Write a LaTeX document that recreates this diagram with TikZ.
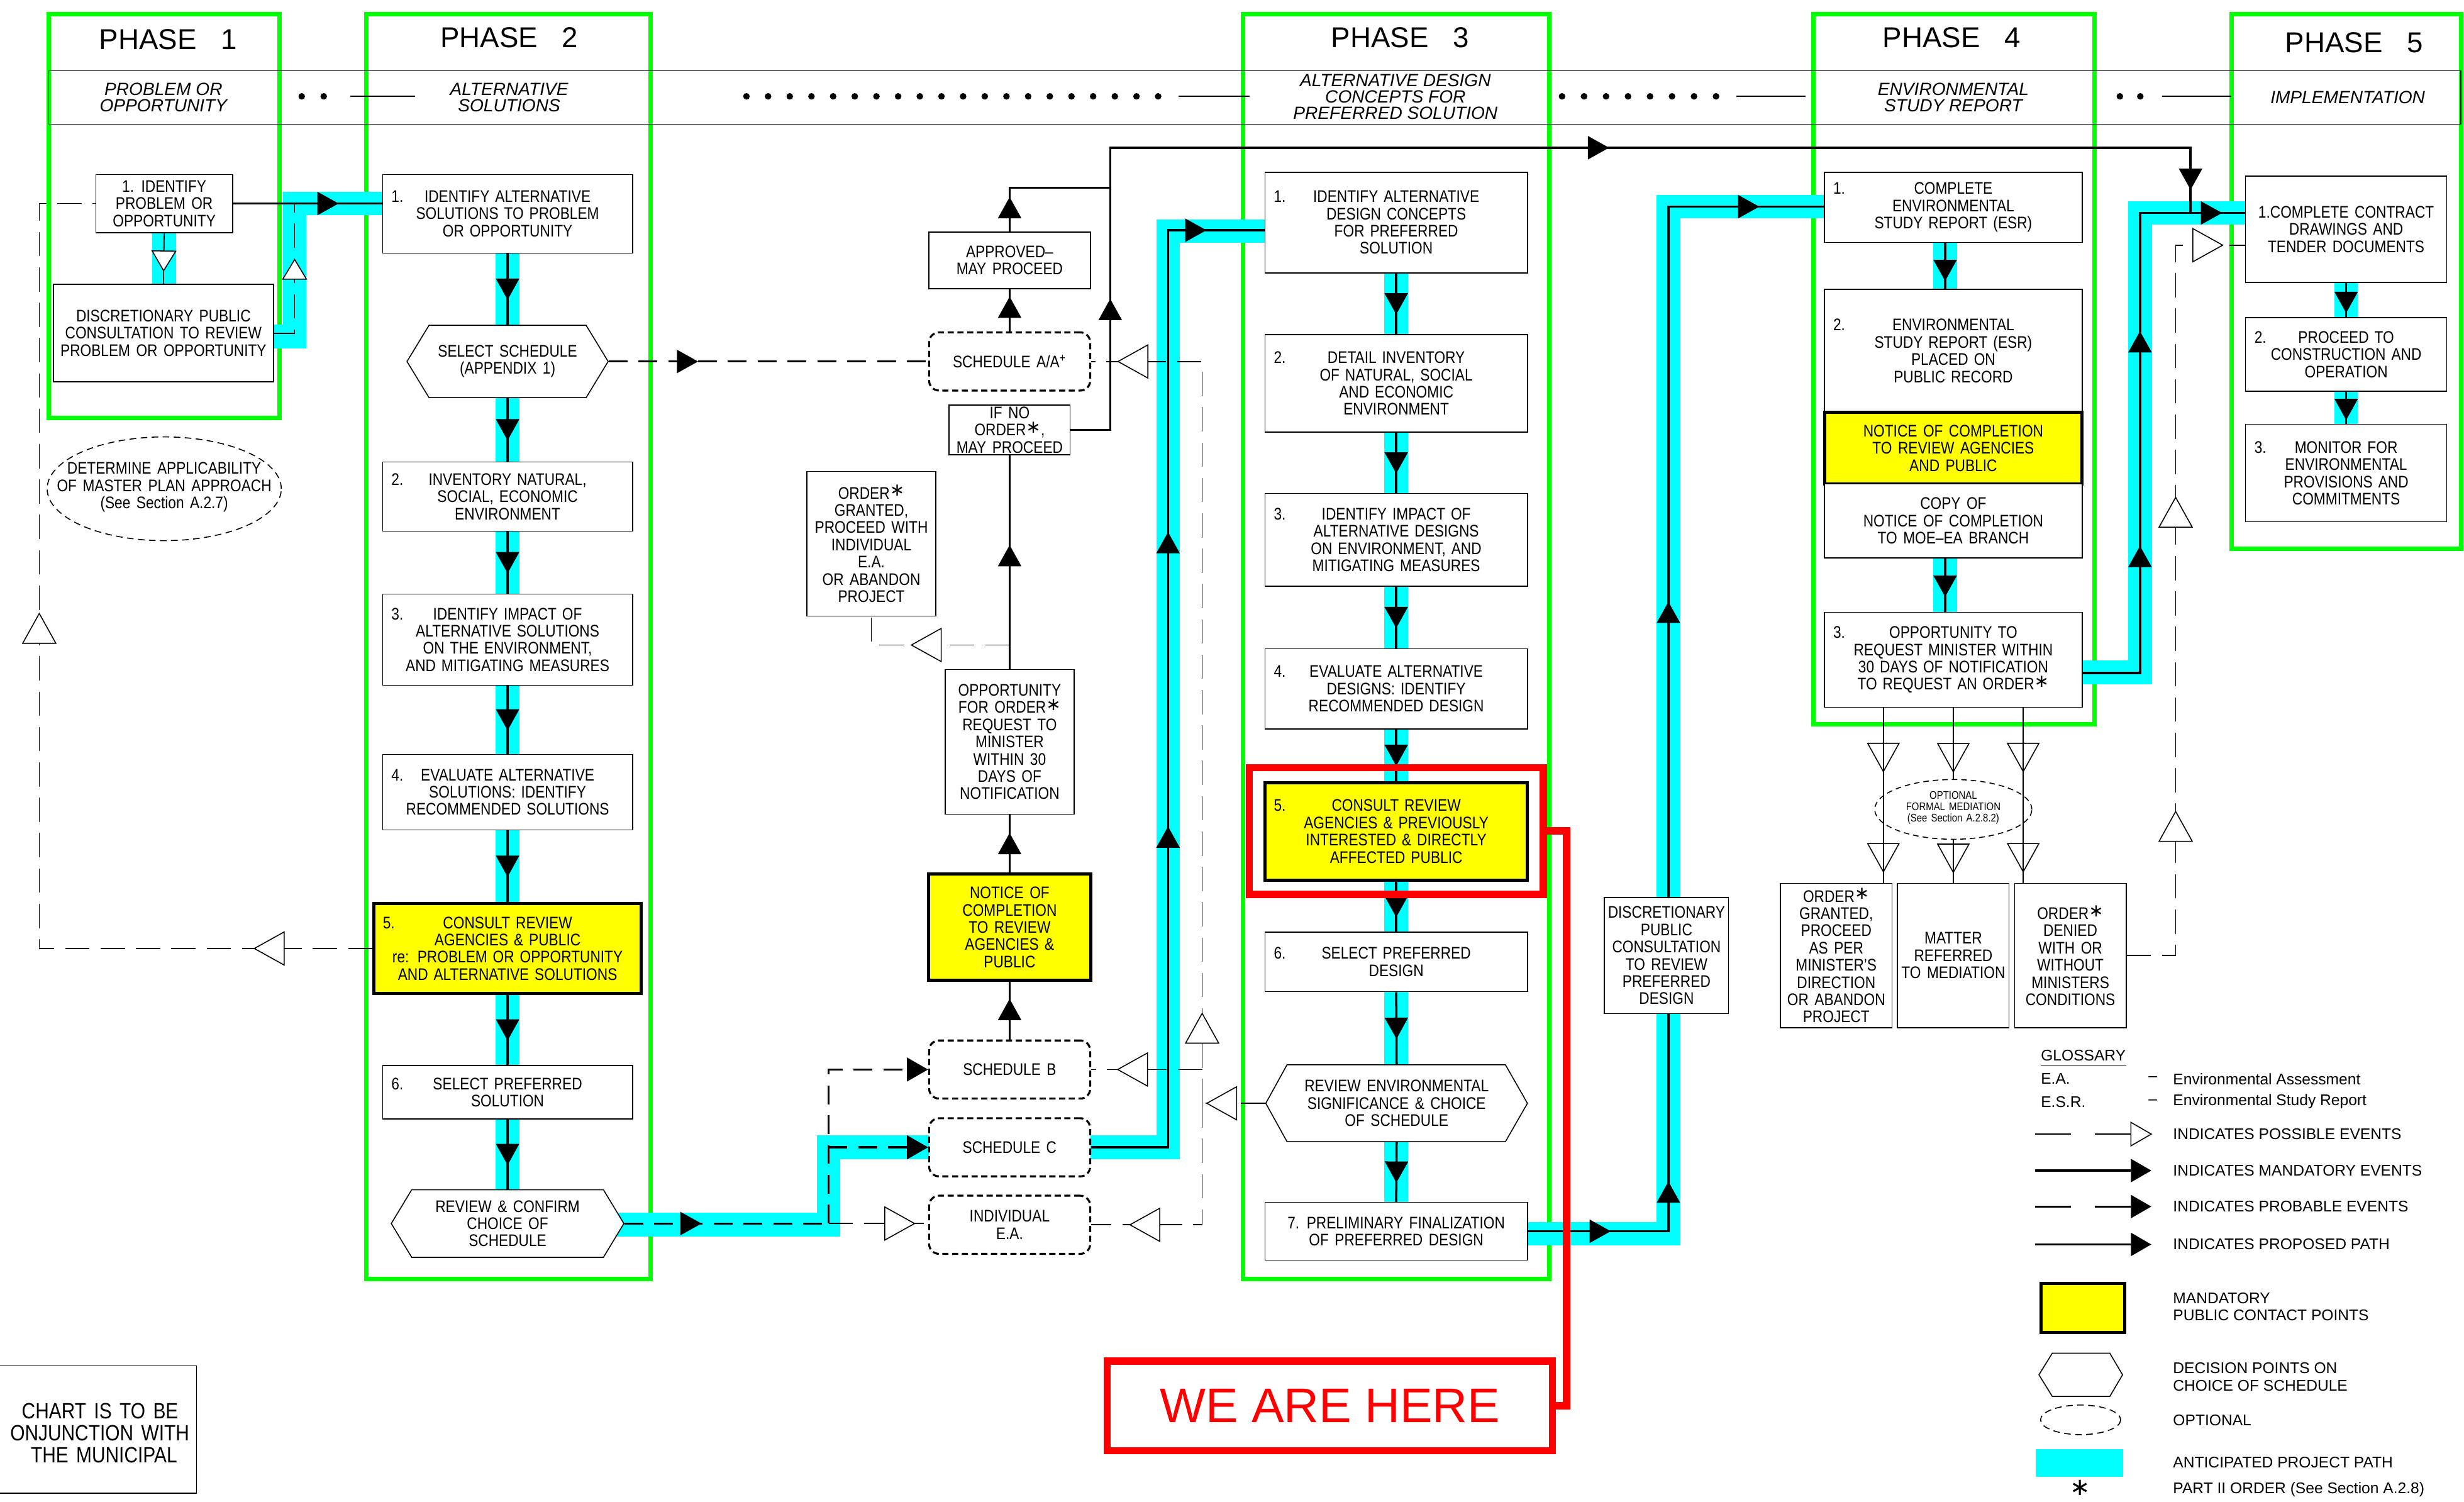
\documentclass[tikz,border=0pt]{standalone}
\usepackage{fontspec}
\setmainfont{Liberation Sans}[FakeStretch=0.85,WordSpace=1.5]
\newfontfamily\ttl{Liberation Sans}
\newfontfamily\djv{DejaVu Sans}
\usetikzlibrary{calc,shapes.geometric,arrows.meta,decorations.markings}
\definecolor{pgreen}{RGB}{0,255,0}
\definecolor{pcyan}{RGB}{0,255,255}
\definecolor{pyellow}{RGB}{255,255,0}
\definecolor{pred}{RGB}{255,0,0}
\newcommand{\boxfont}{\fontsize{7.6}{7.8}\selectfont}
\newcommand{\ordst}{\raisebox{0.3ex}{\djv\fontsize{8}{8}\selectfont ∗}}
\newcommand{\numlead}[1]{\rlap{#1}\hfill}
\newcommand{\numtail}{\hfill\null}
\newcommand{\filltri}{\fill[black] (-4.8pt,-5.33pt) -- (4.8pt,0pt) -- (-4.8pt,5.33pt) -- cycle;}
\newcommand{\opentri}{\filldraw[fill=white,draw=black,solid,line width=0.45pt] (-6.75pt,-7.5pt) -- (6.75pt,0pt) -- (-6.75pt,7.5pt) -- cycle;}
\newcommand{\opensmtri}{\filldraw[fill=white,draw=black,solid,line width=0.45pt] (-4.45pt,-5.35pt) -- (4.45pt,0pt) -- (-4.45pt,5.35pt) -- cycle;}
\newcommand{\hollowtri}{\draw[black,solid,line width=0.45pt] (-6.4pt,-7.1pt) -- (6.4pt,0pt) -- (-6.4pt,7.1pt) -- cycle;}
\tikzset{
  bx/.style 2 args={draw=black, line width=0.45pt, fill=white, minimum width=#1*0.025cm, minimum height=#2*0.025cm, inner xsep=1pt, inner ysep=0pt, align=center, font=\boxfont},
  nbx/.style 2 args={bx={#1}{#2}, text width=#1*0.025cm-8pt},
  ybx/.style 2 args={bx={#1}{#2}, fill=pyellow, line width=1.4pt},
  ynbx/.style 2 args={nbx={#1}{#2}, fill=pyellow, line width=1.4pt},
  sch/.style={draw=black, line width=0.9pt, dash pattern=on 2.8pt off 1.6pt, rounded corners=4.5pt, fill=white, minimum width=102.5*0.025cm, minimum height=37*0.025cm, inner sep=0pt, align=center, font=\boxfont},
  hx/.style 2 args={minimum width=#1*0.025cm, minimum height=#2*0.025cm, inner sep=0pt, align=center, font=\boxfont},
  hexline/.style={draw=black, line width=0.45pt, fill=white},
  txt/.style={inner sep=0pt, align=center, font=\boxfont},
  phasebox/.style={draw=pgreen, line width=2pt},
  cy/.style={draw=pcyan, line width=10.7pt, line join=miter},
  mand/.style={draw=black, line width=1pt},
  prob/.style={draw=black, line width=1pt, dash pattern=on 8.5pt off 5pt},
  poss/.style={draw=black, line width=0.45pt, dash pattern=on 11pt off 5pt},
  fa/.style={postaction={decorate,decoration={markings,mark=at position #1 with {\filltri}}}},
  oa/.style={postaction={decorate,decoration={markings,mark=at position #1 with {\opentri}}}},
  osa/.style={postaction={decorate,decoration={markings,mark=at position #1 with {\opensmtri}}}},
  ha/.style={postaction={decorate,decoration={markings,mark=at position #1 with {\hollowtri}}}},
  endarr/.style={-{Triangle[length=9.6pt,width=10.7pt]}},
  ttlf/.style={font=\ttl\fontsize{13}{15}\selectfont, inner sep=0pt},
  subf/.style={font=\ttl\itshape\fontsize{8}{7.4}\selectfont, inner sep=0pt, align=center},
  lgd/.style={font=\ttl\fontsize{7}{7.8}\selectfont, inner sep=0pt, anchor=west, align=left},
  dashell/.style={ellipse, draw=black, line width=0.45pt, dash pattern=on 3pt off 2pt, inner sep=0pt},
}
\begin{document}
\begin{tikzpicture}[x=0.025cm,y=-0.025cm]
\useasboundingbox (0,0) rectangle (1568,955.3);
% phase frames
\draw[phasebox] (31,9) rectangle (178,266);
\draw[phasebox] (233,9) rectangle (414,814);
\draw[phasebox] (791,9) rectangle (986,814);
\draw[phasebox] (1154,9) rectangle (1333,461);
\draw[phasebox] (1420,9) rectangle (1566,349);
% header band
\draw[line width=0.5pt] (31,45) rectangle (1566,79);
\node[ttlf] (t1) at (107,25) {PHASE\hspace{11pt}1};
\node[ttlf] (t2) at (324,24) {PHASE\hspace{11pt}2};
\node[ttlf] (t3) at (891,24) {PHASE\hspace{11pt}3};
\node[ttlf] (t4) at (1242,24) {PHASE\hspace{11pt}4};
\node[ttlf] (t5) at (1498,27) {PHASE\hspace{11pt}5};
\node[subf] (s1) at (104,62) {PROBLEM OR\\OPPORTUNITY};
\node[subf] (s2) at (324,62) {ALTERNATIVE\\SOLUTIONS};
\node[subf] (s3) at (888,61.5) {ALTERNATIVE DESIGN\\CONCEPTS FOR\\PREFERRED SOLUTION};
\node[subf] (s4) at (1243,62) {ENVIRONMENTAL\\STUDY REPORT};
\node[subf] (s5) at (1494,62) {IMPLEMENTATION};
\foreach \x in {192,206} \fill (\x,61.3) circle (2.1);
\foreach \i in {0,...,19} \fill ({475+13.79*\i},61.3) circle (2.1);
\foreach \i in {0,...,7} \fill ({994+14*\i},61.3) circle (2.1);
\foreach \x in {1349,1362} \fill (\x,61.3) circle (2.1);
\draw[line width=0.5pt] (223,61.3) -- (264,61.3);
\draw[line width=0.5pt] (750,61.3) -- (795,61.3);
\draw[line width=0.5pt] (1105,61.3) -- (1149,61.3);
\draw[line width=0.5pt] (1376,61.3) -- (1420,61.3);
% anticipated project path (cyan)
\draw[cy] (104.5,148) -- (104.5,181);
\draw[cy] (170,214) -- (187.5,214) -- (187.5,129.5) -- (243,129.5);
\draw[cy] (323,161) -- (323,757);
\draw[cy] (390,779.3) -- (527.3,779.3) -- (527.3,730) -- (595,730);
\draw[cy] (690,730) -- (743.3,730) -- (743.3,147) -- (805,147);
\draw[cy] (888.5,173.6) -- (888.5,765);
\draw[cy] (972,785) -- (1061.7,785) -- (1061.7,131.5) -- (1161,131.5);
\draw[cy] (1237.8,154.3) -- (1237.8,389.6);
\draw[cy] (1325,427.8) -- (1361.8,427.8) -- (1361.8,135.5) -- (1429,135.5);
\draw[cy] (1493,179.7) -- (1493,270);
% ---------- Phase 1
\node[bx={87}{37}] (p1b1) at (104.5,129.5) {1. IDENTIFY\\PROBLEM OR\\OPPORTUNITY};
\node[bx={140}{62}] (p1b2) at (104,212) {DISCRETIONARY PUBLIC\\CONSULTATION TO REVIEW\\PROBLEM OR OPPORTUNITY};
\node[dashell, minimum width=149*0.025cm, minimum height=66*0.025cm] (p1ell) at (104.5,311) {};
\node[txt] (p1ellt) at (104.5,310) {DETERMINE APPLICABILITY\\OF MASTER PLAN APPROACH\\(See Section A.2.7)};
% ---------- Phase 2
\node[nbx={159}{50}] (p2b1) at (323,136) {\numlead{1.}IDENTIFY ALTERNATIVE\numtail\\SOLUTIONS TO PROBLEM\\OR OPPORTUNITY};
\draw[hexline] (259,230) -- (273,207) -- (373,207) -- (387,230) -- (373,253) -- (273,253) -- cycle;
\node[hx={128}{46}] (p2h1) at (323,230) {SELECT SCHEDULE\\(APPENDIX 1)};
\node[nbx={159}{44}] (p2b2) at (323,316) {\numlead{2.}INVENTORY NATURAL,\numtail\\SOCIAL, ECONOMIC\\ENVIRONMENT};
\node[nbx={159}{58}] (p2b3) at (323,407) {\numlead{3.}IDENTIFY IMPACT OF\numtail\\ALTERNATIVE SOLUTIONS\\ON THE ENVIRONMENT,\\AND MITIGATING MEASURES};
\node[nbx={159}{48}] (p2b4) at (323,504) {\numlead{4.}EVALUATE ALTERNATIVE\numtail\\SOLUTIONS: IDENTIFY\\RECOMMENDED SOLUTIONS};
\node[ynbx={170}{57}] (p2b5) at (323,603.5) {\numlead{5.}CONSULT REVIEW\numtail\\AGENCIES \& PUBLIC\\re: PROBLEM OR OPPORTUNITY\\AND ALTERNATIVE SOLUTIONS};
\node[nbx={159}{34}] (p2b6) at (323,695) {\numlead{6.}SELECT PREFERRED\numtail\\SOLUTION};
\draw[hexline] (249,778.5) -- (262,757) -- (384,757) -- (397,778.5) -- (384,800) -- (262,800) -- cycle;
\node[hx={148}{43}] (p2h2) at (323,778.5) {REVIEW \& CONFIRM\\CHOICE OF\\SCHEDULE};
% ---------- between phase 2 and 3
\node[bx={103}{36}] (approved) at (642.5,165.6) {APPROVED–\\MAY PROCEED};
\node[sch] (schA) at (642.5,230) {SCHEDULE A/A\textsuperscript{+}};
\node[bx={77}{31.6}] (ifno) at (642.5,273.5) {IF NO\\ORDER\ordst,\\MAY PROCEED};
\node[bx={82}{92}] (ordgr) at (554.5,346) {ORDER\ordst\\GRANTED,\\PROCEED WITH\\INDIVIDUAL\\E.A.\\OR ABANDON\\PROJECT};
\node[bx={82}{92}] (oppord) at (642.5,472) {OPPORTUNITY\\FOR ORDER\ordst\\REQUEST TO\\MINISTER\\WITHIN 30\\DAYS OF\\NOTIFICATION};
\node[ybx={103.5}{67.5}] (notice) at (642.5,590) {NOTICE OF\\COMPLETION\\TO REVIEW\\AGENCIES \&\\PUBLIC};
\node[sch] (schB) at (642.5,680.5) {SCHEDULE B};
\node[sch] (schC) at (642.5,730) {SCHEDULE C};
\node[sch] (indiv) at (642.5,779.3) {INDIVIDUAL\\E.A.};
% ---------- Phase 3
\node[nbx={167}{64}] (p3b1) at (888.5,141.6) {\numlead{1.}IDENTIFY ALTERNATIVE\numtail\\DESIGN CONCEPTS\\FOR PREFERRED\\SOLUTION};
\node[nbx={167}{62}] (p3b2) at (888.5,244) {\numlead{2.}DETAIL INVENTORY\numtail\\OF NATURAL, SOCIAL\\AND ECONOMIC\\ENVIRONMENT};
\node[nbx={167}{59}] (p3b3) at (888.5,343.5) {\numlead{3.}IDENTIFY IMPACT OF\numtail\\ALTERNATIVE DESIGNS\\ON ENVIRONMENT, AND\\MITIGATING MEASURES};
\node[nbx={167}{51}] (p3b4) at (888.5,438.3) {\numlead{4.}EVALUATE ALTERNATIVE\numtail\\DESIGNS: IDENTIFY\\RECOMMENDED DESIGN};
\node[ynbx={167}{62}] (p3b5) at (888.5,529) {\numlead{5.}CONSULT REVIEW\numtail\\AGENCIES \& PREVIOUSLY\\INTERESTED \& DIRECTLY\\AFFECTED PUBLIC};
\node[nbx={167}{38}] (p3b6) at (888.5,612) {\numlead{6.}SELECT PREFERRED\numtail\\DESIGN};
\draw[hexline] (805.5,702) -- (819,677.5) -- (958,677.5) -- (972,702) -- (958,726.4) -- (819,726.4) -- cycle;
\node[hx={166.5}{49}] (p3h) at (888.75,702) {REVIEW ENVIRONMENTAL\\SIGNIFICANCE \& CHOICE\\OF SCHEDULE};
\node[bx={167}{36.7}] (p3b7) at (888.5,783.4) {7. PRELIMINARY FINALIZATION\\OF PREFERRED DESIGN};
% ---------- Phase 4
\node[nbx={164}{44.5}] (p4b1) at (1243,132) {\numlead{1.}COMPLETE\numtail\\ENVIRONMENTAL\\STUDY REPORT (ESR)};
\node[nbx={164}{78.4}] (p4b2a) at (1243,223.2) {\numlead{2.}ENVIRONMENTAL\numtail\\STUDY REPORT (ESR)\\PLACED ON\\PUBLIC RECORD};
\node[ybx={164}{45.5}] (p4b2y) at (1243,285.15) {NOTICE OF COMPLETION\\TO REVIEW AGENCIES\\AND PUBLIC};
\node[bx={164}{47.1}] (p4b2c) at (1243,331.45) {COPY OF\\NOTICE OF COMPLETION\\TO MOE–EA BRANCH};
\node[nbx={164}{60.4}] (p4b3) at (1243,419.8) {\numlead{3.}OPPORTUNITY TO\numtail\\REQUEST MINISTER WITHIN\\30 DAYS OF NOTIFICATION\\TO REQUEST AN ORDER\ordst};
\node[dashell, dash pattern=on 2.5pt off 1.8pt, minimum width=100*0.025cm, minimum height=38*0.025cm] (med) at (1243,515) {};
\node[txt, font=\fontsize{5}{5.1}\selectfont] (medt) at (1243,514) {OPTIONAL\\FORMAL MEDIATION\\(See Section A.2.8.2)};
\node[bx={71}{92}] (og) at (1168.5,608) {ORDER\ordst\\GRANTED,\\PROCEED\\AS PER\\MINISTER’S\\DIRECTION\\OR ABANDON\\PROJECT};
\node[bx={71}{92}] (mr) at (1243,608) {MATTER\\REFERRED\\TO MEDIATION};
\node[bx={71}{92}] (od) at (1317.5,608) {ORDER\ordst\\DENIED\\WITH OR\\WITHOUT\\MINISTERS\\CONDITIONS};
% ---------- Phase 5
\node[bx={128}{67.7}] (p5b1) at (1493,145.85) {1.COMPLETE CONTRACT\\DRAWINGS AND\\TENDER DOCUMENTS};
\node[nbx={128}{47}] (p5b2) at (1493,225.5) {\numlead{2.}PROCEED TO\numtail\\CONSTRUCTION AND\\OPERATION};
\node[nbx={128}{62}] (p5b3) at (1493,301) {\numlead{3.}MONITOR FOR\numtail\\ENVIRONMENTAL\\PROVISIONS AND\\COMMITMENTS};
% ---------- coordinates
\coordinate (j1) at (187.5,129.5);
\coordinate (c1) at (25,603.5);
\coordinate (c2) at (25,129.5);
\coordinate (j2) at (527.3,778.5);
\coordinate (j3) at (706.5,119.5);
\coordinate (c3) at (706.5,94);
\coordinate (c4) at (1394,94);
\coordinate (j5) at (1361.8,135.5);
\coordinate (j5b) at (1394,135.5);
\coordinate (k1) at (743.3,146.5);
\coordinate (j4) at (765,702);
\coordinate (c5) at (765,230);
\coordinate (c6) at (765,779.3);
\coordinate (j6) at (642.5,410.4);
\coordinate (k2) at (1061.7,131.5);
\coordinate (q4) at (1237.8,0);
\coordinate (c7) at (1384.5,608);
\coordinate (c8) at (1384.5,156);
\coordinate (m1) at (1198.5,450);
\coordinate (m3) at (1287.5,450);
% ---------- connectors phase 1
\draw[mand, fa=0.637] (p1b1.east) -- (p1b1.east -| p2b1.west);
\draw[poss, osa=0.545] (p1b1.south) -- (p1b2.north);
\draw[poss, osa=0.5625] (p1b2.east) -| (j1);
\draw[poss, oa=0.091, oa=0.576] (p2b5.west) -- (c1) -- (c2) -- (p1b1.west);
% phase 2 chain
\draw[mand, fa=0.5] (p2b1.south) -- (p2h1.north);
\draw[mand, fa=0.5] (p2h1.south) -- (p2b2.north);
\draw[mand, fa=0.5] (p2b2.south) -- (p2b3.north);
\draw[mand, fa=0.5] (p2b3.south) -- (p2b4.north);
\draw[mand, fa=0.5] (p2b4.south) -- (p2b5.north);
\draw[mand, fa=0.5] (p2b5.south) -- (p2b6.north);
\draw[mand, fa=0.5] (p2b6.south) -- (p2h2.north);
% phase 2 -> schedules
\draw[prob, fa=0.247] (p2h1.east) -- (schA.west);
\draw[prob, fa=0.326] (p2h2.east) -- (j2);
\draw[prob, endarr] (j2) |- (schB.west);
\draw[prob, endarr] (j2 |- schC.west) -- (schC.west);
\draw[poss, oa=0.714] (j2) -- (j2 -| indiv.west);
\draw[mand, fa=0.52] (schB.north) -- (notice.south);
\draw[mand, fa=0.5] (notice.north) -- (oppord.south);
\draw[mand, fa=0.53] (oppord.north) -- (ifno.south);
\draw[mand, fa=0.109, fa=0.552, fa=0.977] (ifno.east) -| (c3) -- (c4) -- (j5b);
\draw[mand, fa=0.57] (schA.north) -- (approved.south);
\draw[mand, fa=0.165] (approved.north) |- (j3);
\draw[poss, oa=0.5] (j6) -| (ordgr.south);
\draw[mand, fa=0.355, fa=0.625, fa=0.937] (schC.east) -| (k1) -- (k1 -| p3b1.west);
% possible-event feedback from phase 3
\draw[poss, oa=0.69] (p3h.west) -- (j4);
\draw[poss, oa=0.088, oa=0.951] (j4) -- (c5) -- (schA.east);
\draw[poss, oa=0.627] (j4 |- schB.east) -- (schB.east);
\draw[poss, oa=0.769] (j4) -- (c6) -- (indiv.east);
% phase 3 chain
\draw[mand, fa=0.5] (p3b1.south) -- (p3b2.north);
\draw[mand, fa=0.5] (p3b2.south) -- (p3b3.north);
\draw[mand, fa=0.5] (p3b3.south) -- (p3b4.north);
\draw[mand, fa=0.5] (p3b4.south) -- (p3b5.north);
\draw[mand, fa=0.5] (p3b5.south) -- (p3b6.north);
\draw[mand, fa=0.5] (p3b6.south) -- (p3h.north);
\draw[mand, fa=0.5] (p3h.south) -- (p3b7.north);
\draw[mand, fa=0.0547, fa=0.136, fa=0.575, fa=0.943] (p3b7.east) -| (k2) -- (k2 -| p4b1.west);
% ---------- between phase 3 and 4 (box sits over the path)
\node[bx={79}{74}] (disc2) at (1060.5,608) {DISCRETIONARY\\PUBLIC\\CONSULTATION\\TO REVIEW\\PREFERRED\\DESIGN};
% phase 4
\draw[mand, fa=0.6] (p4b1.south -| q4) -- (p4b2a.north -| q4);
\draw[mand, fa=0.52] (p4b2c.south -| q4) -- (p4b3.north -| q4);
\draw[mand, fa=0.279, fa=0.624, fa=0.946] ($(p4b3.south east)+(0,-22.2)$) -| (j5) -- (j5 -| p5b1.west);
\draw[line width=0.45pt, ha=0.286, ha=0.857] (m1) -- (m1 |- og.north);
\draw[line width=0.45pt, ha=0.7] (p4b3.south) -- (med.north);
\draw[line width=0.45pt, ha=0.43] (med.south) -- (mr.north);
\draw[line width=0.45pt, ha=0.286, ha=0.857] (m3) -- (m3 |- od.north);
\draw[poss, oa=0.215, oa=0.594, oa=0.955] (od.east) -- (c7) -- (c8) -- (c8 -| p5b1.west);
% phase 5
\draw[mand, fa=0.57] (p5b1.south) -- (p5b2.north);
\draw[mand, fa=0.55] (p5b2.south) -- (p5b3.north);
% ---------- we are here
\node[draw=pred, line width=3.3pt, minimum width=187*0.025cm, minimum height=80.5*0.025cm, inner sep=0pt] (redbox) at (888.5,528.75) {};
\node[draw=pred, line width=3.2pt, minimum width=283.4*0.025cm, minimum height=57*0.025cm, inner sep=0pt, font=\ttl\fontsize{22}{24}\selectfont, text=pred] (wah) at (846.3,894.5) {WE ARE HERE};
\draw[pred, line width=3.3pt] (redbox.east) -- (997,528.75) -- (997,894.5) -- (wah.east);
% ---------- bottom-left note
\draw[line width=0.45pt] (-5,869) -- (125,869) -- (125,950) -- (-5,950);
\node[txt, anchor=east, font=\fontsize{10}{10}\selectfont] (bl1) at (113.7,897.7) {CHART IS TO BE};
\node[txt, anchor=east, font=\fontsize{10}{10}\selectfont] (bl2) at (120.7,912) {ONJUNCTION WITH};
\node[txt, anchor=east, font=\fontsize{10}{10}\selectfont] (bl3) at (113,926) {THE MUNICIPAL};
% ---------- legend
\node[lgd] (lgt) at (1298.5,671.5) {GLOSSARY};
\draw[line width=0.5pt] ($(lgt.south west)+(0,2.5)$) -- ($(lgt.south east)+(0,2.5)$);
\node[lgd] (lgea) at (1298.5,686.5) {E.A.};
\node[lgd] (lgead) at (1367,686.5) {–};
\node[lgd] (lgeat) at (1382.6,686.5) {Environmental Assessment};
\node[lgd] (lgesr) at (1298.5,701) {E.S.R.};
\node[lgd] (lgesrd) at (1367,701) {–};
\node[lgd] (lgesrt) at (1382.6,701) {Environmental Study Report};
\draw[line width=0.45pt] (1295,721.6) -- (1318,721.6);
\draw[line width=0.45pt] (1333,721.6) -- (1356,721.6);
\filldraw[fill=white, line width=0.45pt] (1356,714.1) -- (1369,721.6) -- (1356,729.1) -- cycle;
\draw[line width=1pt] (1295,744.8) -- (1356,744.8);
\fill (1356,737.3) -- (1369,744.8) -- (1356,752.3) -- cycle;
\draw[line width=1pt] (1295,767.7) -- (1318,767.7);
\draw[line width=1pt] (1333,767.7) -- (1356,767.7);
\fill (1356,760.2) -- (1369,767.7) -- (1356,775.2) -- cycle;
\draw[line width=1pt] (1295,791.8) -- (1356,791.8);
\fill (1356,784.3) -- (1369,791.8) -- (1356,799.3) -- cycle;
\draw[fill=pyellow, line width=1.4pt] (1299,816.7) rectangle (1352,847.7);
\draw[line width=0.45pt] (1297.5,874.75) -- (1306,861) -- (1342.6,861) -- (1350.7,874.75) -- (1342.6,888.5) -- (1306,888.5) -- cycle;
\draw[line width=0.45pt, dash pattern=on 3pt off 2pt] (1324,903.4) ellipse [x radius=25.5, y radius=9.4];
\fill[pcyan] (1295.5,922) rectangle (1351,939.7);
\node[txt, font=\djv\fontsize{11}{11}\selectfont] (lgast) at (1323.7,946.5) {∗};
\node[lgd] (lg1) at (1382.6,721.6) {INDICATES POSSIBLE EVENTS};
\node[lgd] (lg2) at (1382.6,744.8) {INDICATES MANDATORY EVENTS};
\node[lgd] (lg3) at (1382.6,767.7) {INDICATES PROBABLE EVENTS};
\node[lgd] (lg4) at (1382.6,791.8) {INDICATES PROPOSED PATH};
\node[lgd] (lg5) at (1382.6,831.5) {MANDATORY\\PUBLIC CONTACT POINTS};
\node[lgd] (lg6) at (1382.6,876) {DECISION POINTS ON\\CHOICE OF SCHEDULE};
\node[lgd] (lg7) at (1382.6,903.5) {OPTIONAL};
\node[lgd] (lg8) at (1382.6,930.5) {ANTICIPATED PROJECT PATH};
\node[lgd] (lg9) at (1382.6,947.7) {PART II ORDER (See Section A.2.8)};
\end{tikzpicture}
\end{document}
